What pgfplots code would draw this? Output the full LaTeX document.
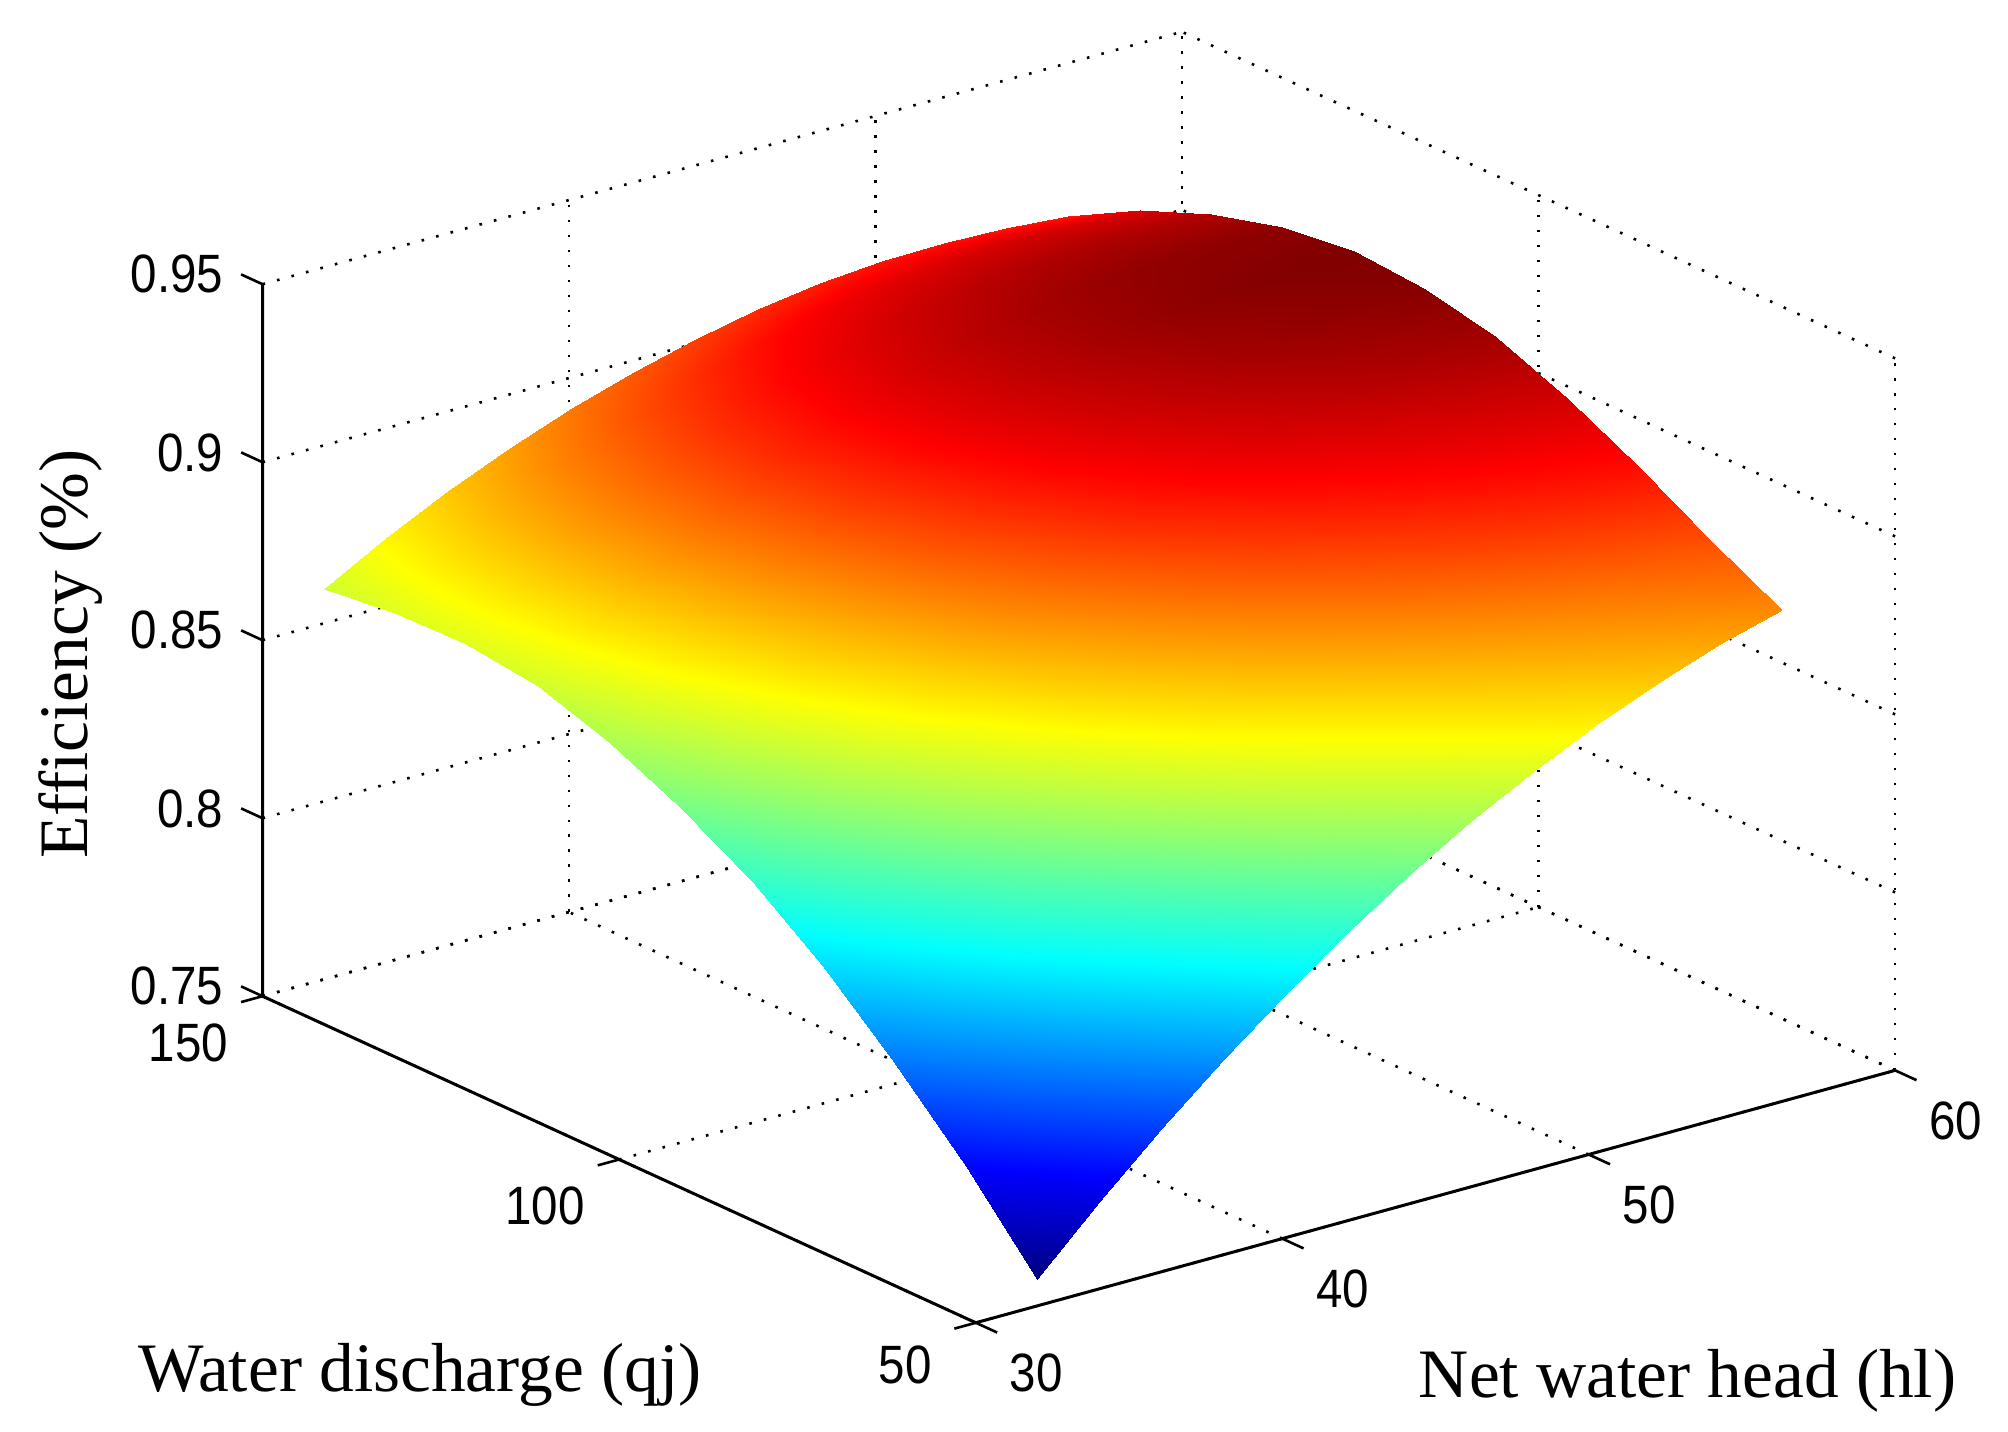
\documentclass[border=0pt]{standalone}
\usepackage{fontspec}
\setmainfont{Liberation Serif}
\newfontfamily\tickfont[FakeStretch=0.88]{Liberation Sans}
\usepackage{pgfplots}
\pgfplotsset{compat=1.18}
\begin{document}
\begin{tikzpicture}
\begin{axis}[
  x={(15.325pt,4.207pt)},
  y={(-3.567pt,1.633pt)},
  z={(0pt,1780.3pt)},
  xmin=30,xmax=60,ymin=50,ymax=150,zmin=0.75,zmax=0.95,
  xtick={30,40,50,60},
  ytick={50,100,150},
  ztick={0.75,0.8,0.85,0.9,0.95},
  zticklabels={0.75,0.8,0.85,0.9,0.95},
  grid=major,
  major grid style={black,line width=1.3pt,dash pattern=on 1.3pt off 6.2pt},
  axis line style={draw=none},
  tick style={draw=none},
  major tick length=10pt,
  tick align=outside,
  tick label style={font=\tickfont\fontsize{27}{29}\selectfont,/pgf/number format/assume math mode=true},
  x tick label style={xshift=11.5pt,yshift=-6pt},
  y tick label style={xshift=-14pt,yshift=-3pt},
  z tick label style={xshift=-7pt,yshift=-1pt},
  colormap/jet,
  clip=false,
  xlabel={Net water head (hl)},
  ylabel={Water discharge (qj)},
  label style={font=\fontsize{34.7}{38}\selectfont},
  x label style={at={(axis cs:30,50,0.75)},anchor=center,xshift=356pt,yshift=-29pt,rotate=0,sloped=false},
  y label style={at={(axis cs:30,50,0.75)},anchor=center,xshift=-278pt,yshift=-26pt,rotate=0,sloped=false},
]
\addplot3[surf,shader=interp,mesh/rows=11,mesh/cols=13,point meta=z] table[x=x,y=y,z=z] {
x y z
32 50 .7575
34.025 50 .7743
36.05 50 .7901
38.075 50 .8047
40.1 50 .8183
42.125 50 .8308
44.15 50 .8423
46.175 50 .8526
48.2 50 .8619
50.225 50 .8701
52.25 50 .8772
54.275 50 .8832
56.3 50 .8882
32 60 .7800
34.025 60 .7965
36.05 60 .8118
38.075 60 .8258
40.1 60 .8387
42.125 60 .8504
44.15 60 .8609
46.175 60 .8701
48.2 60 .8782
50.225 60 .8851
52.25 60 .8907
54.275 60 .8952
56.3 60 .8985
32 70 .8002
34.025 70 .8164
36.05 70 .8314
38.075 70 .8450
40.1 70 .8574
42.125 70 .8685
44.15 70 .8784
46.175 70 .8868
48.2 70 .8941
50.225 70 .9000
52.25 70 .9046
54.275 70 .9079
56.3 70 .9100
32 80 .8180
34.025 80 .8339
36.05 80 .8486
38.075 80 .8617
40.1 80 .8736
42.125 80 .8839
44.15 80 .8931
46.175 80 .9006
48.2 80 .9069
50.225 80 .9119
52.25 80 .9156
54.275 80 .9181
56.3 80 .9198
32 90 .8328
34.025 90 .8484
36.05 90 .8627
38.075 90 .8755
40.1 90 .8869
42.125 90 .8966
44.15 90 .9051
46.175 90 .9118
48.2 90 .9173
50.225 90 .9215
52.25 90 .9245
54.275 90 .9265
56.3 90 .9280
32 100 .8444
34.025 100 .8595
36.05 100 .8732
38.075 100 .8855
40.1 100 .8963
42.125 100 .9054
44.15 100 .9131
46.175 100 .9192
48.2 100 .9239
50.225 100 .9276
52.25 100 .9299
54.275 100 .9314
56.3 100 .9325
32 110 .8535
34.025 110 .8678
36.05 110 .8808
38.075 110 .8923
40.1 110 .9025
42.125 110 .9109
44.15 110 .9180
46.175 110 .9235
48.2 110 .9276
50.225 110 .9307
52.25 110 .9325
54.275 110 .9334
56.3 110 .9340
32 120 .8598
34.025 120 .8731
36.05 120 .8852
38.075 120 .8958
40.1 120 .9051
42.125 120 .9127
44.15 120 .9190
46.175 120 .9238
48.2 120 .9272
50.225 120 .9297
52.25 120 .9310
54.275 120 .9314
56.3 120 .9315
32 130 .8625
34.025 130 .8747
36.05 130 .8857
38.075 130 .8953
40.1 130 .9037
42.125 130 .9105
44.15 130 .9162
46.175 130 .9204
48.2 130 .9234
50.225 130 .9254
52.25 130 .9262
54.275 130 .9262
56.3 130 .9258
32 140 .8622
34.025 140 .8731
36.05 140 .8830
38.075 140 .8915
40.1 140 .8991
42.125 140 .9052
44.15 140 .9103
46.175 140 .9142
48.2 140 .9169
50.225 140 .9186
52.25 140 .9192
54.275 140 .9188
56.3 140 .9178
32 150 .8597
34.025 150 .8691
36.05 150 .8776
38.075 150 .8849
40.1 150 .8914
42.125 150 .8968
44.15 150 .9013
46.175 150 .9047
48.2 150 .9072
50.225 150 .9086
52.25 150 .9091
54.275 150 .9085
56.3 150 .9070
};
\draw[black,line width=1.5pt] (axis cs:30,150,0.95)--(axis cs:30,150,0.75)--(axis cs:30,50,0.75)--(axis cs:60,50,0.75);
\draw[black,line width=1.3pt]
  (axis cs:30,150,0.75)--(axis cs:30,153,0.75)
  (axis cs:30,150,0.80)--(axis cs:30,153,0.80)
  (axis cs:30,150,0.85)--(axis cs:30,153,0.85)
  (axis cs:30,150,0.90)--(axis cs:30,153,0.90)
  (axis cs:30,150,0.95)--(axis cs:30,153,0.95)
  (axis cs:30,50,0.75)--(axis cs:29.3,50,0.75)
  (axis cs:30,100,0.75)--(axis cs:29.3,100,0.75)
  (axis cs:30,150,0.75)--(axis cs:29.3,150,0.75)
  (axis cs:30,50,0.75)--(axis cs:30,47,0.75)
  (axis cs:40,50,0.75)--(axis cs:40,47,0.75)
  (axis cs:50,50,0.75)--(axis cs:50,47,0.75)
  (axis cs:60,50,0.75)--(axis cs:60,47,0.75);
\coordinate (o) at (axis cs:30,50,0.75);
\end{axis}
\node[rotate=90,anchor=center,font=\fontsize{34.7}{38}\selectfont] at ([shift={(-452.8pt,334.3pt)}]o) {Efficiency (\%)};
\pgfresetboundingbox
\path ([shift={(-488pt,661.5pt)}]o) rectangle ([shift={(516.2pt,-54.4pt)}]o);
\end{tikzpicture}
\end{document}
